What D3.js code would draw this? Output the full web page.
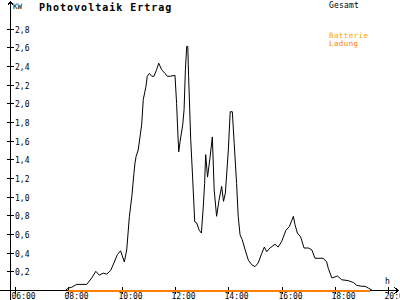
<!DOCTYPE html>
<html><head><meta charset="utf-8">
<script src="https://cdn.jsdelivr.net/npm/d3@7"></script>
<style>
html,body{margin:0;padding:0;background:#fff;}
svg{display:block;}
text{font-family:"DejaVu Sans Mono",monospace;}
</style></head>
<body>
<svg id="c" width="400" height="300"></svg>
<script>
// Time of day (decimal hours) and power (kW) for "Gesamt"
const gesamtTime = [7.91,8.00,8.13,8.31,8.69,8.88,9.03,9.16,9.31,9.44,9.59,9.71,9.84,9.96,10.10,10.19,10.29,10.38,10.46,10.50,10.54,10.62,10.75,10.81,10.91,10.96,11.04,11.13,11.21,11.31,11.39,11.50,11.63,11.71,11.81,12.00,12.06,12.09,12.14,12.19,12.29,12.34,12.39,12.44,12.48,12.51,12.59,12.66,12.74,12.81,12.91,12.99,13.06,13.11,13.15,13.22,13.31,13.40,13.47,13.56,13.65,13.75,13.82,13.89,14.00,14.07,14.15,14.22,14.31,14.37,14.44,14.52,14.63,14.75,14.88,15.00,15.12,15.25,15.35,15.44,15.56,15.75,15.87,16.00,16.16,16.29,16.44,16.50,16.59,16.71,16.84,17.00,17.13,17.25,17.37,17.56,17.69,17.75,17.88,18.00,18.09,18.25,18.50,18.69,18.81,19.00,19.13,19.25,19.38];
const gesamtKW = [0,0.02,0.03,0.06,0.06,0.13,0.20,0.16,0.18,0.17,0.21,0.29,0.38,0.42,0.30,0.43,0.79,1.00,1.25,1.36,1.43,1.50,1.77,2.04,2.18,2.29,2.32,2.29,2.29,2.36,2.43,2.36,2.32,2.29,2.29,2.30,2.00,1.79,1.48,1.59,1.77,1.93,2.36,2.61,2.61,2.29,1.61,1.21,0.73,0.72,0.64,0.61,0.89,1.14,1.45,1.21,1.41,1.64,1.07,0.79,0.96,1.11,0.95,1.04,1.50,1.91,1.91,1.57,1.14,0.79,0.59,0.54,0.43,0.32,0.27,0.25,0.29,0.39,0.46,0.41,0.45,0.49,0.46,0.52,0.64,0.68,0.79,0.70,0.61,0.57,0.45,0.45,0.43,0.34,0.34,0.34,0.30,0.23,0.13,0.14,0.15,0.11,0.10,0.08,0.05,0.04,0.04,0.02,0];
// "Batterie Ladung" series
const ladungTime = [8.00,19.31];
const ladungKW = [0,0];

const yTicks = [0.2,0.4,0.6,0.8,1.0,1.2,1.4,1.6,1.8,2.0,2.2,2.4,2.6,2.8];
const yTickLabels = ["0,2","0,4","0,6","0,8","1,0","1,2","1,4","1,6","1,8","2,0","2,2","2,4","2,6","2,8"];
const xTicks = [6,8,10,12,14,16,18,20];
const xTickLabels = ["06:00","08:00","10:00","12:00","14:00","16:00","18:00","20:00"];

const svg = d3.select("#c");
const x = d3.scaleLinear().domain([6,20]).range([15,388.33]);
const y = d3.scaleLinear().domain([0,2.8]).range([290,28.67]);
const px = v => Math.round(x(v)) + 0.5;
const py = v => Math.round(y(v)) + 0.5;

// axes
const ax = svg.append("g").attr("stroke","#000").attr("stroke-width",1).attr("shape-rendering","crispEdges").attr("fill","none");
ax.append("line").attr("x1",10.5).attr("x2",10.5).attr("y1",1).attr("y2",300);
ax.append("line").attr("x1",0).attr("x2",398).attr("y1",290.5).attr("y2",290.5);
// arrows
ax.append("path").attr("d","M7.5,5.5L10.5,1.5L13.5,5.5");
ax.append("path").attr("d","M394.5,287.5L398.5,290.5L394.5,293.5");

yTicks.forEach((t,i)=>{
  ax.append("line").attr("x1",7).attr("x2",14).attr("y1",py(t)).attr("y2",py(t));
  svg.append("text").attr("x",15).attr("y",py(t)+3).attr("font-size","8px").attr("fill","#000").text(yTickLabels[i]);
});
xTicks.forEach((t,i)=>{
  ax.append("line").attr("x1",px(t)).attr("x2",px(t)).attr("y1",287).attr("y2",294);
  svg.append("text").attr("x",px(t)-4).attr("y",299).attr("font-size","8px").attr("fill","#000").text(xTickLabels[i]);
});

svg.append("text").attr("x",13).attr("y",8.5).attr("font-size","7.5px").attr("fill","#000").text("KW");
svg.append("text").attr("x",385).attr("y",284).attr("font-size","8px").attr("fill","#000").text("h");

// title and legend
svg.append("text").attr("x",39).attr("y",10.5).attr("font-size","10px").attr("font-weight","bold").attr("letter-spacing","1px").attr("fill","#000").text("Photovoltaik Ertrag");
svg.append("text").attr("x",329).attr("y",7.5).attr("font-size","8px").attr("letter-spacing","0.2px").attr("fill","#000").text("Gesamt");
svg.append("text").attr("x",329).attr("y",38).attr("font-size","7.5px").attr("letter-spacing","0.4px").attr("fill","#ffa500").text("Batterie");
svg.append("text").attr("x",329).attr("y",46).attr("font-size","7.5px").attr("letter-spacing","0.4px").attr("fill","#ff8000").text("Ladung");

// series
const line = d3.line().x(d=>x(d[0])).y(d=>y(d[1]));
svg.append("path").datum(gesamtTime.map((t,i)=>[t,gesamtKW[i]]))
  .attr("d",line).attr("fill","none").attr("stroke","#000").attr("stroke-width",1);
svg.append("path").datum(ladungTime.map((t,i)=>[t,ladungKW[i]]))
  .attr("d",d3.line().x(d=>x(d[0])).y(d=>py(d[1])))
  .attr("fill","none").attr("stroke","#ff8000").attr("stroke-width",2).attr("shape-rendering","crispEdges");
</script>
</body></html>
